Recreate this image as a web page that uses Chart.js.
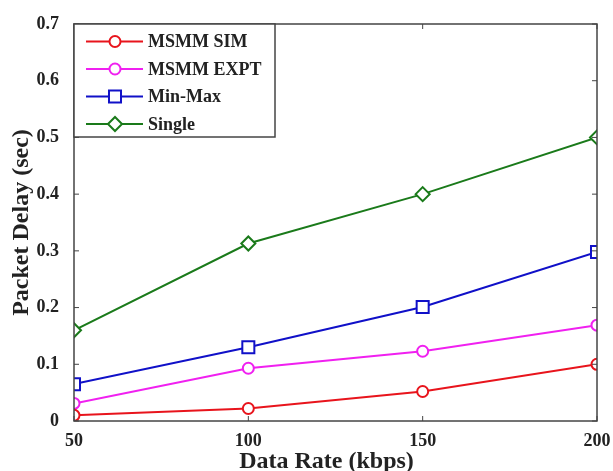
<!DOCTYPE html>
<html>
<head>
<meta charset="utf-8">
<script src="https://cdn.jsdelivr.net/npm/chart.js@4.4.1/dist/chart.umd.min.js"></script>
<style>
  html, body { margin: 0; padding: 0; background: #fff; }
  #wrap { width: 613px; height: 471px; }
</style>
</head>
<body>
<div id="wrap"><canvas id="chart" width="613" height="471"></canvas></div>
<script>
// data
const rates = [50, 100, 150, 200];
const msmmSim = [0.01, 0.022, 0.052, 0.1];
const msmmExpt = [0.031, 0.093, 0.123, 0.169];
const minMax = [0.065, 0.13, 0.201, 0.298];
const single = [0.16, 0.313, 0.4, 0.5];

const seriesNames = ['MSMM SIM', 'MSMM EXPT', 'Min-Max', 'Single'];
const seriesColors = ['#e8141c', '#f020f0', '#1010c8', '#1a7a1a'];
const seriesMarkers = ['circle', 'circle', 'rect', 'rectRot'];
const markerSizes = [5.5, 5.5, 8.5, 7];
const seriesValues = [msmmSim, msmmExpt, minMax, single];

const serif = '"Liberation Serif", "DejaVu Serif", serif';

const datasets = seriesNames.map((name, i) => ({
    label: name,
    data: rates.map((r, j) => ({ x: r, y: seriesValues[i][j] })),
    borderColor: seriesColors[i],
    backgroundColor: '#fff',
    borderWidth: 2,
    pointStyle: seriesMarkers[i],
    pointRadius: markerSizes[i],
    pointBorderWidth: 2,
    pointBackgroundColor: '#fff',
    pointBorderColor: seriesColors[i],
    tension: 0
}));

// box round the plot plus inward ticks, matlab style
const boxPlugin = {
    id: 'box',
    afterDatasetsDraw(chart) {
        const { ctx, chartArea: a, scales } = chart;
        ctx.save();
        ctx.strokeStyle = '#444';
        ctx.lineWidth = 1.5;
        ctx.strokeRect(a.left, a.top, a.right - a.left, a.bottom - a.top);
        ctx.lineWidth = 1;
        scales.y.ticks.forEach(t => {
            const py = scales.y.getPixelForValue(t.value);
            ctx.beginPath();
            ctx.moveTo(a.left, py); ctx.lineTo(a.left + 5, py);
            ctx.moveTo(a.right, py); ctx.lineTo(a.right - 5, py);
            ctx.stroke();
        });
        scales.x.ticks.forEach(t => {
            const px = scales.x.getPixelForValue(t.value);
            ctx.beginPath();
            ctx.moveTo(px, a.bottom); ctx.lineTo(px, a.bottom - 5);
            ctx.moveTo(px, a.top); ctx.lineTo(px, a.top + 5);
            ctx.stroke();
        });
        ctx.restore();
    }
};

// legend drawn inside the plot with a frame, tucked in the top-left corner
const insideLegend = {
    id: 'insideLegend',
    afterDraw(chart) {
        const { ctx, chartArea: a } = chart;
        const x0 = a.left, y0 = a.top, w = 201, h = 113;
        ctx.save();
        ctx.fillStyle = '#fff';
        ctx.fillRect(x0, y0, w, h);
        ctx.strokeStyle = '#444';
        ctx.lineWidth = 1.5;
        ctx.strokeRect(x0, y0, w, h);
        chart.data.datasets.forEach((ds, i) => {
            const cy = y0 + 17.5 + i * 27.5;
            ctx.strokeStyle = ds.borderColor;
            ctx.lineWidth = 2;
            ctx.beginPath();
            ctx.moveTo(x0 + 12, cy); ctx.lineTo(x0 + 69, cy);
            ctx.stroke();
            ctx.fillStyle = '#fff';
            Chart.helpers.drawPoint(ctx, {
                pointStyle: ds.pointStyle,
                radius: ds.pointRadius,
                borderWidth: 2,
                rotation: 0
            }, x0 + 41, cy);
            ctx.fillStyle = '#222';
            ctx.font = 'bold 18px ' + serif;
            ctx.textBaseline = 'middle';
            ctx.textAlign = 'left';
            ctx.fillText(ds.label, x0 + 74, cy + 1);
        });
        ctx.restore();
    }
};

new Chart(document.getElementById('chart'), {
    type: 'line',
    data: { datasets },
    options: {
        responsive: false,
        animation: false,
        layout: { padding: { left: 0, right: 16, top: 24, bottom: 0 } },
        plugins: { legend: { display: false }, tooltip: { enabled: false } },
        scales: {
            x: {
                type: 'linear',
                min: 50,
                max: 200,
                ticks: { stepSize: 50, color: '#222', font: { family: serif, size: 18, weight: 'bold' }, padding: 2 },
                grid: { display: false },
                border: { display: false },
                // trailing spaces nudge the centred title a little to the left, like the original
                title: { display: true, text: 'Data Rate (kbps)   ', color: '#222',
                    font: { family: serif, size: 24, weight: 'bold', lineHeight: 0.8 }, padding: 0 },
                afterFit(s) { s.height = 50; }
            },
            y: {
                min: 0,
                max: 0.7,
                ticks: { stepSize: 0.1, color: '#222', font: { family: serif, size: 18, weight: 'bold' }, padding: 7,
                    callback: v => v === 0 ? '0' : v.toFixed(1) },
                grid: { display: false },
                border: { display: false },
                title: { display: true, text: 'Packet Delay (sec)', color: '#222',
                    font: { family: serif, size: 24, weight: 'bold', lineHeight: 1 }, padding: { top: 10, bottom: 0 } },
                afterFit(s) { s.width = 74; }
            }
        }
    },
    plugins: [boxPlugin, insideLegend]
});
</script>
</body>
</html>
